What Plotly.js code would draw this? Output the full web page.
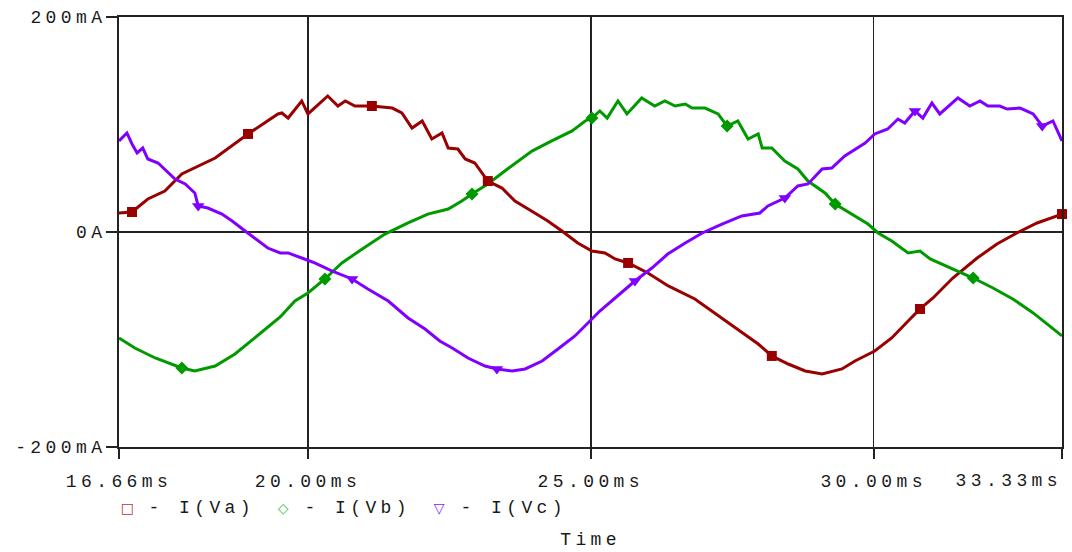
<!DOCTYPE html>
<html><head><meta charset="utf-8">
<script src="https://cdn.plot.ly/plotly-3.0.1.min.js"></script>
<style>
html,body{margin:0;padding:0;background:#fff;}
#chart{width:1072px;height:552px;}
#chart text{letter-spacing:4.4px;}
</style></head><body><div id="chart"></div>
<script>
// Time in ms, current in mA
const tA = [16.66,16.89,17.17,17.47,17.77,18.36,18.94,19.47,19.54,19.65,19.89,20.00,20.35,20.53,20.66,20.83,21.13,21.49,21.66,21.84,22.02,22.19,22.37,22.48,22.65,22.78,22.95,23.18,23.43,23.66,24.01,24.24,24.49,24.77,25.02,25.25,25.43,25.66,26.01,26.37,26.84,27.14,27.55,27.96,28.20,28.49,28.79,29.09,29.44,29.67,30.02,30.32,30.61,30.82,31.05,31.40,31.83,32.18,32.53,32.89,33.33];
const iA = [17.7,18.6,30.7,38.1,54.0,68.8,91.2,109.8,110.7,106.0,121.9,109.8,126.5,117.2,121.9,117.2,117.2,115.3,110.7,96.7,103.3,86.5,92.1,78.1,77.2,67.9,64.2,47.4,40.9,28.8,17.7,10.2,0.9,-10.2,-17.7,-19.5,-25.1,-28.8,-38.1,-50.2,-62.3,-73.5,-89.3,-104.2,-115.3,-122.8,-129.3,-132.1,-127.4,-120.0,-110.7,-98.6,-82.8,-71.6,-61.4,-42.8,-24.2,-11.2,-0.9,8.4,16.7];

const tB = [16.66,16.94,17.30,17.77,18.00,18.36,18.71,19.06,19.51,19.77,20.00,20.30,20.60,20.96,21.36,21.77,22.12,22.48,22.72,22.90,23.18,23.48,23.71,23.96,24.31,24.67,24.90,25.02,25.16,25.29,25.48,25.64,25.90,26.13,26.31,26.49,26.67,26.79,27.02,27.25,27.41,27.60,27.78,27.96,28.03,28.20,28.43,28.66,28.84,29.14,29.32,29.62,29.90,30.08,30.32,30.61,30.82,31.00,31.35,31.76,32.11,32.46,32.82,33.12,33.33];
const iB = [-98.6,-107.9,-117.2,-126.5,-129.3,-124.7,-113.5,-98.6,-79.1,-64.2,-56.7,-43.7,-28.8,-15.8,-1.9,8.4,16.7,21.4,28.8,35.3,44.7,56.7,66.0,75.3,84.7,94.0,103.3,106.0,112.6,106.0,121.9,109.8,124.7,117.2,121.9,117.2,119.1,115.3,115.3,109.8,98.6,103.3,86.5,91.2,78.1,78.1,66.0,58.6,47.4,36.3,26.0,16.7,7.4,-0.9,-8.4,-19.5,-17.7,-25.1,-33.5,-42.8,-52.1,-62.3,-75.3,-87.4,-96.7];

const tC = [16.66,16.80,16.89,16.98,17.08,17.17,17.35,17.47,17.65,17.83,18.00,18.06,18.23,18.48,18.66,18.89,19.06,19.29,19.51,19.65,19.89,20.12,20.43,20.78,21.06,21.42,21.77,22.07,22.33,22.55,22.83,23.13,23.34,23.61,23.84,24.14,24.42,24.72,24.95,25.16,25.43,25.78,26.08,26.36,26.67,26.97,27.32,27.67,27.99,28.13,28.43,28.66,28.84,29.09,29.26,29.49,29.85,30.02,30.25,30.43,30.55,30.73,30.87,31.03,31.17,31.49,31.70,31.88,32.02,32.23,32.36,32.59,32.82,32.98,33.17,33.33];
const iC = [84.7,92.1,81.9,73.5,78.1,67.9,64.2,58.6,49.3,44.7,36.3,24.2,22.3,16.7,10.2,0.9,-5.6,-14.9,-19.5,-19.5,-24.2,-28.8,-36.3,-43.7,-53.0,-64.2,-80.0,-90.2,-101.4,-107.9,-117.2,-124.7,-127.4,-129.3,-127.4,-120.0,-108.8,-96.7,-84.7,-73.5,-61.4,-45.6,-33.5,-20.5,-10.2,-0.9,7.4,14.9,17.7,24.2,31.6,42.8,44.7,58.6,59.5,70.7,82.8,91.2,95.8,105.1,101.4,112.6,106.0,120.0,109.8,124.7,117.2,121.9,117.2,117.2,114.4,115.3,109.8,98.6,103.3,84.7];

// marker positions (times, taken from the series)
const mkA = [16.89,18.94,21.13,23.18,25.66,28.20,30.82,33.33];
const mkB = [17.77,20.30,22.90,25.02,27.41,29.32,31.76];
const mkC = [18.06,20.78,23.34,25.78,28.43,30.73,32.98];

const tickVals = [16.66,20,25,30,33.33];
const tickText = ['16.66ms','20.00ms','25.00ms','30.00ms','33.33ms'];
const yTickVals = [-200,0,200];
const yTickText = ['-200mA','0A','200mA'];
const seriesNames = ['I(Va)','I(Vb)','I(Vc)'];

const colA = '#990000', colB = '#009900', colC = '#7f00ff';
const FONT = 'Liberation Mono, DejaVu Sans Mono, monospace';
const TXT = '#1a1a1a';

function pick(ts, is, marks){
  return marks.map(m => is[ts.indexOf(m)]);
}

const traces = [
  {x:tA, y:iA, mode:'lines', line:{color:colA, width:3}, showlegend:false, hoverinfo:'skip'},
  {x:tB, y:iB, mode:'lines', line:{color:colB, width:3}, showlegend:false, hoverinfo:'skip'},
  {x:tC, y:iC, mode:'lines', line:{color:colC, width:3}, showlegend:false, hoverinfo:'skip'},
  {x:mkA, y:pick(tA,iA,mkA), mode:'markers', marker:{symbol:'square', size:10, color:colA}, showlegend:false, cliponaxis:false},
  {x:mkB, y:pick(tB,iB,mkB), mode:'markers', marker:{symbol:'diamond', size:10, color:colB}, showlegend:false, cliponaxis:false},
  {x:mkC, y:pick(tC,iC,mkC), mode:'markers', marker:{symbol:'triangle-down', size:11, color:colC}, showlegend:false, cliponaxis:false}
];

const axisCommon = {
  showline:true, linecolor:'#222', linewidth:2, mirror:true,
  showgrid:true, gridcolor:'#222', gridwidth:1.5,
  ticks:'outside', tickcolor:'#222', tickwidth:2,
  tickfont:{family:FONT, size:18, color:TXT},
  fixedrange:true
};

const legendItems = [
  {sym:'\u25A1', col:'#c03030', x:129, name:seriesNames[0]},
  {sym:'\u25C7', col:'#40c040', x:285, name:seriesNames[1]},
  {sym:'\u25BD', col:'#8020ff', x:441, name:seriesNames[2]}
];
const W = 1072, L = 119, R = 10, PW = W - L - R;
const annotations = [];
legendItems.forEach(it => {
  annotations.push({xref:'paper', yref:'paper', x:(it.x - L)/PW, y:0, yshift:-61, xanchor:'center', yanchor:'middle',
    text:it.sym, showarrow:false, font:{family:'DejaVu Sans', size:14, color:it.col}});
  annotations.push({xref:'paper', yref:'paper', x:(it.x + 33 - L)/PW, y:0, yshift:-61, xanchor:'left', yanchor:'middle',
    text:'- ' + it.name, showarrow:false, font:{family:FONT, size:18, color:TXT}});
});
annotations.push({xref:'paper', yref:'paper', x:0.5, y:0, yshift:-93, xanchor:'center', yanchor:'middle',
  text:'Time', showarrow:false, font:{family:FONT, size:18, color:TXT}});
// last x tick label is drawn right-aligned to the axis end, as in the reference
const lastIdx = tickVals.length - 1;
annotations.push({xref:'x', yref:'paper', x:tickVals[lastIdx], y:0, yshift:-34, xshift:-13, xanchor:'right', yanchor:'middle',
  text:tickText[lastIdx], showarrow:false, font:{family:FONT, size:18, color:TXT}});
const shownTickText = tickText.map((t, i) => i === lastIdx ? '' : t);

const layout = {
  width:1072, height:552,
  margin:{l:L, r:R, t:17, b:105},
  paper_bgcolor:'#ffffff', plot_bgcolor:'#ffffff',
  showlegend:false,
  xaxis:Object.assign({}, axisCommon, {range:[16.6599,33.3301], tickmode:'array', tickvals:tickVals, ticktext:shownTickText, ticklen:10, ticklabelstandoff:6, zeroline:false}),
  yaxis:Object.assign({}, axisCommon, {range:[-200,200], tickmode:'array', tickvals:yTickVals, ticktext:yTickText, ticklen:11, ticklabelstandoff:-4, zeroline:true, zerolinecolor:'#222', zerolinewidth:1.5}),
  annotations:annotations
};

Plotly.newPlot('chart', traces, layout, {staticPlot:true, displayModeBar:false});
</script></body></html>
